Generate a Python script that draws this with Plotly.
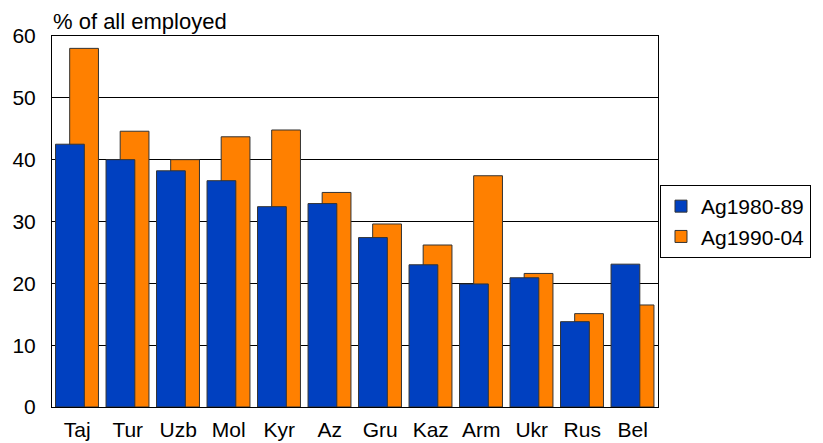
import plotly.graph_objects as go

categories = ["Taj", "Tur", "Uzb", "Mol", "Kyr", "Az", "Gru", "Kaz", "Arm", "Ukr", "Rus", "Bel"]
ag_1980_89 = [42.5, 40.0, 38.2, 36.6, 32.4, 32.9, 27.4, 23.0, 19.9, 20.9, 13.8, 23.1]
ag_1990_04 = [58.0, 44.6, 40.0, 43.7, 44.8, 34.7, 29.6, 26.2, 37.4, 21.6, 15.1, 16.5]
y_ticks = [0, 10, 20, 30, 40, 50, 60]

FONT = "Liberation Sans, Arial, sans-serif"

fig = go.Figure()
# orange first so blue is drawn in front
fig.add_trace(go.Bar(
    x=categories, y=ag_1990_04, name="Ag1990-04",
    marker=dict(color="#FF8000", line=dict(color="#333333", width=1)),
    width=0.57, offset=-0.15, legendrank=2,
))
fig.add_trace(go.Bar(
    x=categories, y=ag_1980_89, name="Ag1980-89",
    marker=dict(color="#0040C0", line=dict(color="#333333", width=1)),
    width=0.57, offset=-0.43, legendrank=1,
))

fig.update_layout(
    width=815, height=435,
    margin=dict(l=44, r=161, t=28, b=36),
    barmode="overlay",
    plot_bgcolor="white", paper_bgcolor="white",
    font=dict(family=FONT, size=21, color="black"),
    showlegend=True,
    legend=dict(
        x=1.0033, xanchor="left", y=0.5, yanchor="middle",
        bordercolor="black", borderwidth=1,
        font=dict(size=21), tracegroupgap=0,
        itemwidth=30,
    ),
    xaxis=dict(
        showgrid=False, showline=True, linecolor="black", linewidth=1,
        mirror=True, ticks="", tickfont=dict(size=21),
        automargin=False, ticklabelstandoff=4,
    ),
    yaxis=dict(
        range=[0, 60], tickvals=y_ticks, showgrid=True, gridcolor="black",
        gridwidth=1, showline=True, linecolor="black", linewidth=1,
        mirror=True, zeroline=False, ticks="", tickfont=dict(size=21),
        ticklabelstandoff=11, automargin=False,
    ),
    annotations=[dict(
        text="% of all employed", xref="paper", yref="paper",
        x=0, y=1, xanchor="left", yanchor="bottom", showarrow=False,
        font=dict(size=22), yshift=0, xshift=-1,
    )],
)

fig.write_html("out.html")
